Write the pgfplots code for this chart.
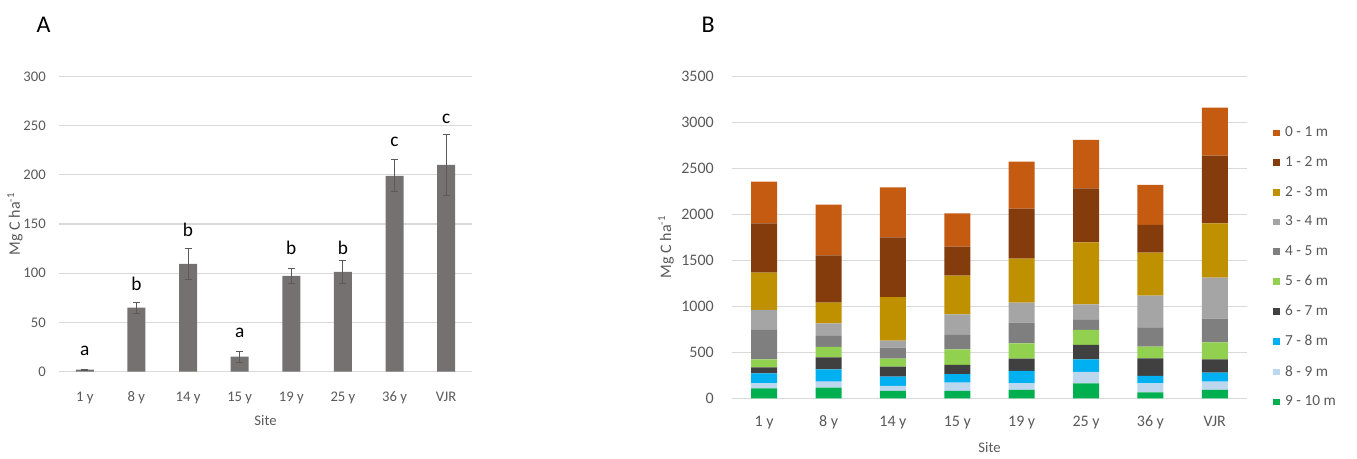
\documentclass[border=0pt]{standalone}
\usepackage{pgfplots}
\pgfplotsset{compat=1.18}
\usepackage{pgfplotstable}
\usepackage{fontspec}
\setmainfont{Carlito}
\definecolor{gridc}{HTML}{D9D9D9}
\definecolor{txt}{HTML}{595959}
\definecolor{barA}{HTML}{767171}
\definecolor{errc}{HTML}{5A5A5A}
\definecolor{c0}{HTML}{C55A11}
\definecolor{c1}{HTML}{843C0C}
\definecolor{c2}{HTML}{BF9000}
\definecolor{c3}{HTML}{A5A5A5}
\definecolor{c4}{HTML}{7F7F7F}
\definecolor{c5}{HTML}{92D050}
\definecolor{c6}{HTML}{404040}
\definecolor{c7}{HTML}{00B0F0}
\definecolor{c8}{HTML}{BDD7EE}
\definecolor{c9}{HTML}{00B050}

\pgfplotstableread{
x d9 d8 d7 d6 d5 d4 d3 d2 d1 d0
0 109 54 109 65 87 319 217 406 536 453
1 116 65 134 131 112 120 137 225 514 551
2 80 54 101 109 87 120 76 474 649 543
3 80 90 94 98 171 163 217 420 315 363
4 91 72 134 134 167 224 218 478 543 511
5 163 123 138 156 163 116 163 674 586 526
6 65 98 80 192 127 210 344 467 301 435
7 91 90 98 145 185 257 446 590 736 521
}\stacktab

\pgfplotsset{
  common/.style={
    scale only axis,
    axis line style={draw=none},
    major tick length=0pt,
    ymajorgrids,
    grid style={gridc, line width=0.8pt},
    xmin=-0.5, xmax=7.5,
    xtick={0,...,7},
    xticklabels={1 y,8 y,14 y,15 y,19 y,25 y,36 y,VJR},
    /pgf/number format/assume math mode=true,
    /pgf/number format/1000 sep={},
    xlabel={Site},
    ylabel={Mg C ha\textsuperscript{-1}},
  }
}

\begin{document}
\begin{tikzpicture}
\path[use as bounding box] (0,0) rectangle (1017.75pt,343.5pt);

% Panel A
\begin{axis}[common,
  at={(44.25pt,64.725pt)}, anchor=south west,
  width=309.75pt, height=221.55pt,
  ymin=0, ymax=300, ytick={0,50,...,300},
  ybar, bar width=13.5pt,
  tick label style={font=\fontsize{11}{13}\selectfont, text=txt},
  label style={font=\fontsize{11}{13}\selectfont, text=txt},
  yticklabel style={anchor=east, inner sep=0pt, xshift=-9.75pt},
  xticklabel style={anchor=base, yshift=-22.3pt},
  xlabel style={at={(axis description cs:0.5,0)}, anchor=base, yshift=-40.7pt},
  ylabel style={at={(axis description cs:-0.1065,0.5)}, anchor=center, font=\fontsize{12}{14}\selectfont},
]
\addplot[fill=barA, draw=none,
  error bars/.cd, y dir=both, y explicit,
  error bar style={draw=errc, line width=0.75pt},
  error mark options={rotate=90, mark size=2.6pt, draw=errc, line width=0.75pt}]
coordinates {
(0,2) +- (0,0.6)
(1,65) +- (0,5.5)
(2,109.5) +- (0,15.5)
(3,15.2) +- (0,5.5)
(4,97.3) +- (0,7.7)
(5,101.4) +- (0,11.5)
(6,199) +- (0,16)
(7,210) +- (0,31)
};
\begin{scope}[font=\fontsize{14.5}{16}\selectfont]
\node[anchor=base] at (axis cs:0,16) {a};
\node[anchor=base] at (axis cs:1,82.4) {b};
\node[anchor=base] at (axis cs:2,137.5) {b};
\node[anchor=base] at (axis cs:3,34.8) {a};
\node[anchor=base] at (axis cs:4,119.3) {b};
\node[anchor=base] at (axis cs:5,119.3) {b};
\node[anchor=base] at (axis cs:6,228.5) {c};
\node[anchor=base] at (axis cs:7,252) {c};
\end{scope}
\end{axis}

% Panel B
\begin{axis}[common,
  at={(549pt,44.775pt)}, anchor=south west,
  width=386.25pt, height=241.5pt,
  ymin=0, ymax=3500, ytick={0,500,...,3500},
  ybar stacked, bar width=19.5pt,
  tick label style={font=\fontsize{12}{14}\selectfont, text=txt},
  label style={font=\fontsize{11}{13}\selectfont, text=txt},
  yticklabel style={anchor=east, inner sep=0pt, xshift=-13.5pt},
  xticklabel style={anchor=base, yshift=-21.5pt},
  xlabel style={at={(axis description cs:0.5,0)}, anchor=base, yshift=-40.3pt},
  ylabel style={at={(axis description cs:-0.128,0.47)}, anchor=center, font=\fontsize{12}{14}\selectfont},
  reverse legend,
  legend image code/.code={\fill[#1] (0pt,-2.45pt) rectangle (4.9pt,2.45pt);},
  legend style={at={(axis description cs:1.0505,0.852)}, anchor=north west,
    draw=none, fill=none, inner sep=0pt, row sep=9.3pt,
    /tikz/column 1/.style={column sep=2pt},
    font=\fontsize{11.5}{13}\selectfont, text=txt},
  legend cell align=left,
]
\addplot[fill=c9, draw=none] table[x=x, y=d9] {\stacktab};
\addplot[fill=c8, draw=none] table[x=x, y=d8] {\stacktab};
\addplot[fill=c7, draw=none] table[x=x, y=d7] {\stacktab};
\addplot[fill=c6, draw=none] table[x=x, y=d6] {\stacktab};
\addplot[fill=c5, draw=none] table[x=x, y=d5] {\stacktab};
\addplot[fill=c4, draw=none] table[x=x, y=d4] {\stacktab};
\addplot[fill=c3, draw=none] table[x=x, y=d3] {\stacktab};
\addplot[fill=c2, draw=none] table[x=x, y=d2] {\stacktab};
\addplot[fill=c1, draw=none] table[x=x, y=d1] {\stacktab};
\addplot[fill=c0, draw=none] table[x=x, y=d0] {\stacktab};
\legend{9 - 10 m,8 - 9 m,7 - 8 m,6 - 7 m,5 - 6 m,4 - 5 m,3 - 4 m,2 - 3 m,1 - 2 m,0 - 1 m}
\end{axis}

\node[anchor=base west, font=\fontsize{18}{20}\selectfont] at (24pt,319.3pt) {A};
\node[anchor=base west, font=\fontsize{18}{20}\selectfont] at (522.75pt,319.3pt) {B};
\end{tikzpicture}
\end{document}
